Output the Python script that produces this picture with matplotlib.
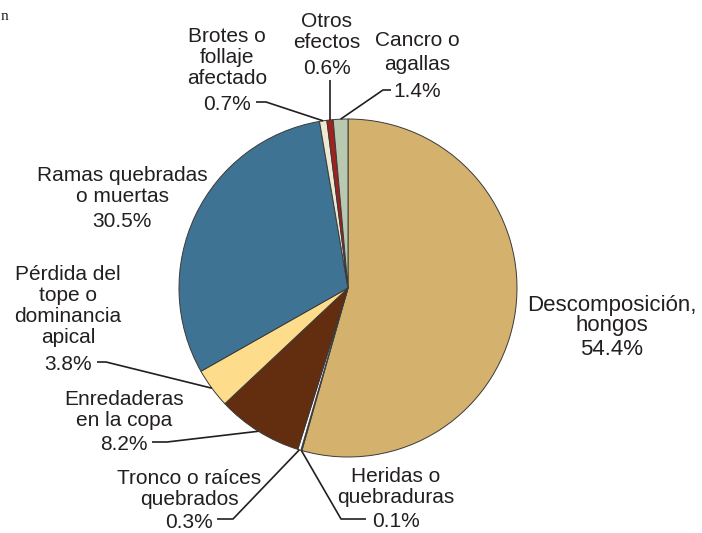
import matplotlib.pyplot as plt
import numpy as np

plt.rcParams['font.family'] = ['Liberation Sans', 'DejaVu Sans']

# categories, clockwise from 12 o'clock
names = [['Descomposición,', 'hongos'], ['Heridas o', 'quebraduras'],
         ['Tronco o raíces', 'quebrados'], ['Enredaderas', 'en la copa'],
         ['Pérdida del', 'tope o', 'dominancia', 'apical'],
         ['Ramas quebradas', 'o muertas'], ['Brotes o', 'follaje', 'afectado'],
         ['Otros', 'efectos'], ['Cancro o', 'agallas']]
percents = [54.4, 0.1, 0.3, 8.2, 3.8, 30.5, 0.7, 0.6, 1.4]
colors = ['#D4B16D', '#FFFFFF', '#FFFFFF', '#632E10', '#FDDC8B',
          '#3F7393', '#EEE9D2', '#A2201E', '#B9C9B1']

# layout, in pixels (y going down)
center = (348, 288)
radius = 169
# x centre of each label block, baseline of its first line, baseline of the % line
labelX = [612, 396, 189, 124, 68, 122, 227, 327, 417]
firstBase = [311, 482, 484, 405, 280, 181, 42, 27, 46]
pctBase = [355, 527, 528, 450, 370, 227, 110, 74, 97]
lineGap = [20, 21, 21, 21, 21, 21, 21, 21, 24]
labelSize = [16, 15, 15, 15, 15, 15, 15, 15, 15]
# extra leader points after the wedge edge point (None = no leader)
leaders = [None, [(341, 519), (366, 519)], [(233, 519), (217, 519)],
           [(167, 442), (152, 442)], [(106, 362), (97, 362)], None,
           [(266, 102), (256, 102)], 'up', [(383, 90), (391, 90)]]

textColor = '#231F20'

fig = plt.figure(figsize=(7.02, 5.33), dpi=100)
ax = fig.add_axes([0, 0, 1, 1])

# y axis is flipped, so clockwise on screen = counterclock in data
wedges, _ = ax.pie(percents, colors=colors, startangle=-90, counterclock=True,
                   center=center, radius=radius,
                   wedgeprops=dict(edgecolor='#3a3a3a', linewidth=0.7))

ax.set_xlim(0, 702)
ax.set_ylim(533, 0)
ax.set_aspect('equal')
ax.axis('off')

for i in range(len(names)):
    for k, line in enumerate(names[i]):
        ax.text(labelX[i], firstBase[i] + k * lineGap[i], line, ha='center',
                va='baseline', fontsize=labelSize[i], color=textColor)
    ax.text(labelX[i], pctBase[i], '{0:.1f}%'.format(percents[i]), ha='center',
            va='baseline', fontsize=labelSize[i], color=textColor)

    if leaders[i] is None:
        continue
    w = wedges[i]
    mid = np.deg2rad((w.theta1 + w.theta2) / 2.0)
    startX = center[0] + radius * np.cos(mid)
    startY = center[1] + radius * np.sin(mid)
    if leaders[i] == 'up':
        pts = [(startX, startY), (startX, 80)]
    else:
        pts = [(startX, startY)] + leaders[i]
    xs = [p[0] for p in pts]
    ys = [p[1] for p in pts]
    ax.plot(xs, ys, color=textColor, linewidth=1.2, solid_capstyle='butt')

# stray letter at the top-left corner of the source page
ax.text(0.5, 20, 'n', ha='left', va='baseline', fontsize=11, color=textColor,
        family='Liberation Serif')

plt.savefig('out.png', dpi=100)
